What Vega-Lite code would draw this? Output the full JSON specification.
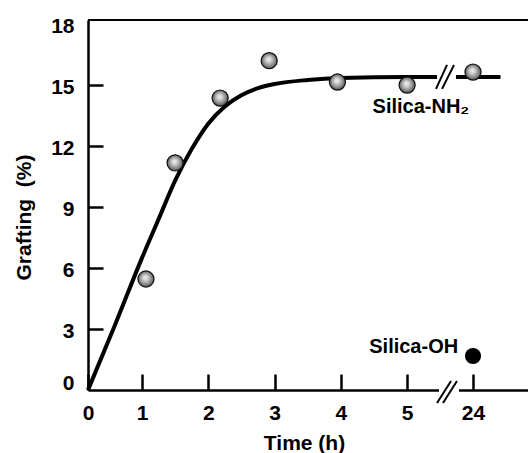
{
  "$schema": "https://vega.github.io/schema/vega-lite/v6.json",
  "width": 440,
  "height": 370,
  "autosize": "none",
  "padding": {"left": 88, "top": 20, "right": 0, "bottom": 63},
  "background": "white",
  "config": {
    "view": {"stroke": null},
    "font": "Liberation Sans",
    "axis": {
      "grid": false,
      "domainColor": "black",
      "domainWidth": 2.5,
      "tickColor": "black",
      "tickWidth": 2.5,
      "labelFont": "Liberation Sans",
      "labelFontSize": 21,
      "labelFontWeight": "bold",
      "labelColor": "black",
      "titleFont": "Liberation Sans",
      "titleFontSize": 21,
      "titleFontWeight": "bold",
      "titleColor": "black"
    }
  },
  "datasets": {
    "curve": [
      {"t": 0, "v": 0, "seg": "a"},
      {"t": 0.5, "v": 3.2, "seg": "a"},
      {"t": 1, "v": 6.5, "seg": "a"},
      {"t": 1.25, "v": 8.4, "seg": "a"},
      {"t": 1.5, "v": 10.3, "seg": "a"},
      {"t": 1.75, "v": 11.85, "seg": "a"},
      {"t": 2, "v": 13.1, "seg": "a"},
      {"t": 2.25, "v": 13.95, "seg": "a"},
      {"t": 2.5, "v": 14.5, "seg": "a"},
      {"t": 2.75, "v": 14.85, "seg": "a"},
      {"t": 3, "v": 15.05, "seg": "a"},
      {"t": 3.5, "v": 15.25, "seg": "a"},
      {"t": 4, "v": 15.35, "seg": "a"},
      {"t": 5, "v": 15.4, "seg": "a"},
      {"t": 13.64, "v": 15.4, "seg": "a"},
      {"t": 19.1, "v": 15.4, "seg": "b"},
      {"t": 26, "v": 15.4, "seg": "b"}
    ],
    "nh2": [
      {"t": 1.06, "v": 5.46},
      {"t": 1.5, "v": 11.17},
      {"t": 2.18, "v": 14.36},
      {"t": 2.92, "v": 16.2},
      {"t": 3.95, "v": 15.15},
      {"t": 5.03, "v": 15.0},
      {"t": 24, "v": 15.64}
    ],
    "oh": [
      {"t": 24, "v": 1.67}
    ],
    "labels": [
      {"t": 4.48, "v": 13.62, "label": "Silica-NH₂"},
      {"t": 4.43, "v": 1.82, "label": "Silica-OH"}
    ],
    "frame": [
      {"t": 0, "t2": 28, "v": 18.2}
    ],
    "cover": [
      {"t": 14.21, "t2": 19.97, "v": 0}
    ],
    "slashes": [
      {"t": 13.35, "v": 14.81, "t2": 16.52, "v2": 15.99},
      {"t": 15.08, "v": 14.81, "t2": 18.53, "v2": 15.99},
      {"t": 13.64, "v": -0.64, "t2": 17.67, "v2": 0.44},
      {"t": 15.36, "v": -0.64, "t2": 19.39, "v2": 0.44}
    ]
  },
  "encoding": {
    "x": {
      "field": "t",
      "type": "quantitative",
      "scale": {"domain": [0, 1, 5, 24, 28], "range": [0, 54, 319, 385, 440], "nice": false, "zero": false},
      "axis": {
        "values": [0, 1, 2, 3, 4, 5, 24],
        "tickSize": -16,
        "labelPadding": 28,
        "labelFlush": false,
        "labelOverlap": false,
        "title": "Time (h)",
        "titleBaseline": "alphabetic",
        "titleY": 59,
        "titleX": 216
      }
    },
    "y": {
      "field": "v",
      "type": "quantitative",
      "scale": {"domain": [0, 18.2], "nice": false, "zero": true},
      "axis": {
        "values": [0, 3, 6, 9, 12, 15, 18],
        "tickSize": -15,
        "labelPadding": 29,
        "labelFlush": false,
        "labelOverlap": false,
        "labelOffset": {"condition": {"test": "datum.value === 0", "value": -7}, "value": 2},
        "tickOpacity": {"condition": {"test": "datum.value === 0 || datum.value === 18", "value": 0}, "value": 1},
        "title": "Grafting\u00a0 (%)",
        "titleBaseline": "middle",
        "titleX": -64,
        "titleY": 197
      }
    }
  },
  "layer": [
    {
      "data": {"name": "frame"},
      "mark": {"type": "rule", "color": "black", "strokeWidth": 2.2},
      "encoding": {"x2": {"field": "t2"}}
    },
    {
      "data": {"name": "cover"},
      "mark": {"type": "rule", "color": "white", "strokeWidth": 6},
      "encoding": {"x2": {"field": "t2"}}
    },
    {
      "data": {"name": "curve"},
      "mark": {"type": "line", "color": "black", "strokeWidth": 4, "interpolate": "monotone"},
      "encoding": {"detail": {"field": "seg"}}
    },
    {
      "data": {"name": "slashes"},
      "mark": {"type": "rule", "color": "black", "strokeWidth": 2},
      "encoding": {"x2": {"field": "t2"}, "y2": {"field": "v2"}}
    },
    {
      "data": {"name": "nh2"},
      "mark": {
        "type": "point",
        "shape": "circle",
        "filled": true,
        "size": 260,
        "opacity": 1,
        "fill": {
          "gradient": "radial",
          "x1": 0.45, "y1": 0.4, "r1": 0,
          "x2": 0.5, "y2": 0.5, "r2": 0.55,
          "stops": [
            {"offset": 0, "color": "#f4f4f4"},
            {"offset": 0.3, "color": "#cfcfcf"},
            {"offset": 0.75, "color": "#7a7a7a"},
            {"offset": 1, "color": "#2a2a2a"}
          ]
        },
        "stroke": "#111111",
        "strokeWidth": 1.2
      }
    },
    {
      "data": {"name": "oh"},
      "mark": {"type": "point", "shape": "circle", "filled": true, "size": 260, "opacity": 1, "color": "black"}
    },
    {
      "data": {"name": "labels"},
      "mark": {"type": "text", "align": "left", "baseline": "alphabetic", "font": "Liberation Sans", "fontSize": 20, "fontWeight": "bold", "color": "black"},
      "encoding": {"text": {"field": "label"}}
    }
  ]
}
